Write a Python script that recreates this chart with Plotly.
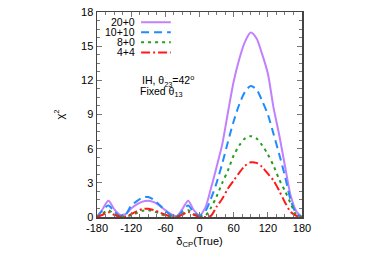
import plotly.graph_objects as go

delta = [-180, -170, -160, -150, -140, -130, -120, -110, -100, -90, -80, -70, -60, -50, -40, -30, -20, -10,
         0, 10, 20, 30, 40, 50, 60, 70, 80, 90, 100, 110, 120, 130, 140, 150, 160, 170, 180]

chi_20_0 = [0, 0.7, 1.43, 0.7, 0.2, 0.25, 0.75, 1.1, 1.35, 1.42, 1.3, 1.0, 0.6, 0.25, 0.08, 0.7, 1.43, 0.6,
            0.15, 0.8, 2.5, 4.4, 6.4, 9.2, 11.9, 13.9, 15.4, 16.2, 15.7, 14.3, 12.6, 9.6, 7.2, 4.5, 1.9, 0.5, 0]
chi_10_10 = [0, 0.6, 1.0, 0.5, 0.1, 0.2, 1.0, 1.4, 1.7, 1.75, 1.5, 1.05, 0.55, 0.15, 0.05, 0.5, 1.0, 0.4,
             0.1, 0.5, 1.6, 3.0, 4.7, 6.6, 8.4, 9.9, 11.0, 11.5, 11.2, 10.2, 9.0, 7.3, 5.5, 3.6, 1.5, 0.3, 0]
chi_8_0 = [0, 0.3, 0.6, 0.25, 0.05, 0.05, 0.15, 0.35, 0.55, 0.6, 0.5, 0.3, 0.12, 0.02, 0.02, 0.3, 0.6, 0.25,
           0.02, 0.1, 0.8, 1.8, 3.0, 4.1, 5.4, 6.3, 6.9, 7.1, 6.9, 6.3, 5.5, 4.5, 3.3, 2.3, 1.2, 0.2, 0]
chi_4_4 = [0, 0.2, 0.42, 0.2, 0.03, 0.05, 0.25, 0.5, 0.7, 0.72, 0.6, 0.4, 0.2, 0.05, 0.0, 0.2, 0.45, 0.2,
           0.0, 0.0, 0.1, 0.9, 1.6, 2.5, 3.2, 3.9, 4.5, 4.8, 4.75, 4.4, 3.8, 3.2, 2.3, 1.3, 0.45, 0.1, 0]

series_names = ["20+0", "10+10", "8+0", "4+4"]
series_values = [chi_20_0, chi_10_10, chi_8_0, chi_4_4]
colors = ["#c080ff", "#1e8cff", "#2a9a20", "#ff1a1a"]
dashes = ["solid", "8px,5px", "3px,4px", "9px,3px,2px,3px"]

x_ticks = [-180, -120, -60, 0, 60, 120, 180]
y_ticks = [0, 3, 6, 9, 12, 15, 18]

fig = go.Figure()
for name, vals, c, d in zip(series_names, series_values, colors, dashes):
    fig.add_trace(go.Scatter(x=delta, y=vals, mode="lines", name=name,
                             line=dict(color=c, width=2, dash=d, shape="spline", smoothing=0.8),
                             showlegend=False))

font = dict(family="Liberation Sans, Arial, sans-serif", size=11, color="#000")

# gnuplot-style legend: text right-aligned, sample line to its right
for i, (name, c, d) in enumerate(zip(series_names, colors, dashes)):
    yp = 0.95 - i * 0.049
    fig.add_annotation(x=0.195, y=yp, xref="paper", yref="paper", text=name, showarrow=False,
                       xanchor="right", yanchor="middle", font=dict(family=font["family"], size=10.5, color="#000"))
    fig.add_shape(type="line", xref="paper", yref="paper", x0=0.215, x1=0.36, y0=yp, y1=yp,
                  line=dict(color=c, width=2, dash=d))

fig.add_annotation(x=0.21, y=0.665, xref="paper", yref="paper",
                   text="IH, θ<sub>23</sub>=42<sup>o</sup>", showarrow=False,
                   font=dict(family=font["family"], size=10.5, color="#000"))
fig.add_annotation(x=0.2, y=0.612, xref="paper", yref="paper",
                   text="Fixed θ<sub>13</sub>", showarrow=False,
                   font=dict(family=font["family"], size=10.5, color="#000"))

axis_common = dict(showgrid=False, zeroline=False, showline=True, linecolor="#444", linewidth=1.5,
                   mirror="allticks", ticks="inside", ticklen=5, tickcolor="#777", tickwidth=1,
                   tickfont=font)

fig.update_xaxes(range=[-180, 180], tickvals=x_ticks, ticktext=[str(t) for t in x_ticks],
                 minor=dict(dtick=15, ticks="inside", ticklen=3, tickcolor="#777"),
                 title=dict(text="δ<sub>CP</sub>(True)", font=font, standoff=4), **axis_common)
fig.update_yaxes(range=[0, 18], tickvals=y_ticks, ticktext=[str(t) for t in y_ticks],
                 minor=dict(dtick=0.75, ticks="inside", ticklen=3, tickcolor="#777"),
                 title=dict(text="χ<sup>2</sup>", font=font, standoff=14), **axis_common)

fig.update_layout(width=374, height=261, margin=dict(l=97, r=72, t=12, b=44, autoexpand=False),
                  plot_bgcolor="white", paper_bgcolor="white", font=font)

fig.write_html("out.html", config={"displayModeBar": False, "staticPlot": True},
               post_script="document.body.style.margin='0';")
